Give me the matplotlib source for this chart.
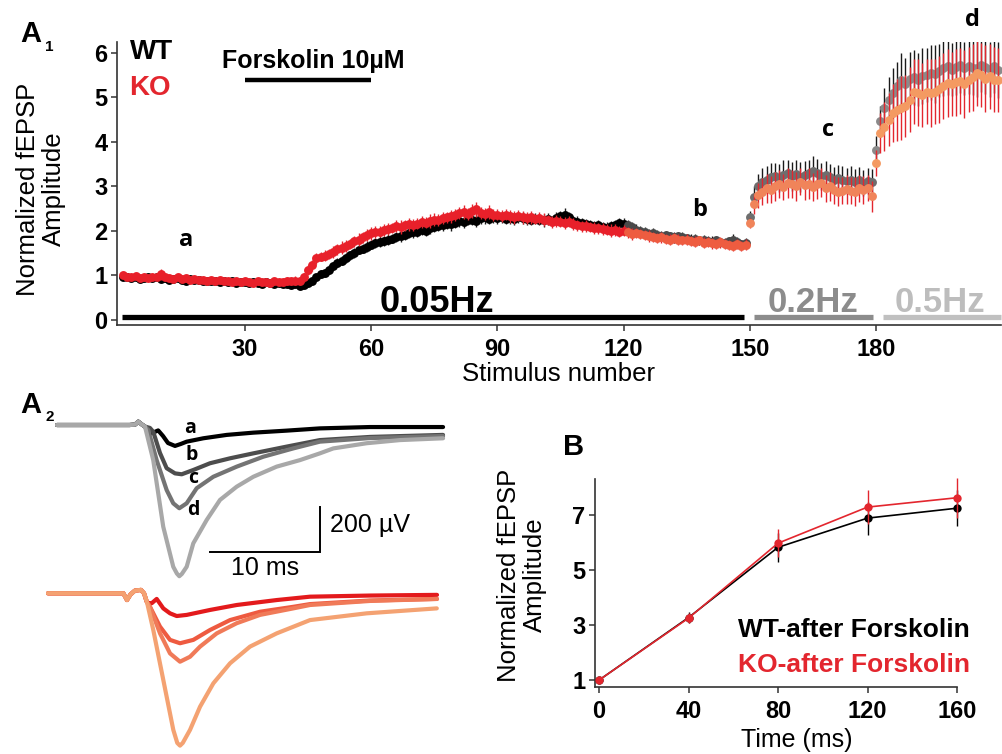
import numpy as np
import matplotlib
matplotlib.use('Agg')
import matplotlib.pyplot as plt

plt.rcParams['font.family'] = ['Liberation Sans', 'DejaVu Sans']

# ---------------- Panel A1 data (normalized fEPSP per stimulus) ----------------
wt_005 = [0.97, 0.95, 0.93, 0.96, 0.92, 0.94, 0.97, 0.93, 0.95, 0.91,
          0.94, 0.90, 0.92, 0.93, 0.90, 0.88, 0.91, 0.89, 0.90, 0.87,
          0.88, 0.86, 0.87, 0.85, 0.88, 0.84, 0.86, 0.83, 0.85, 0.84,
          0.82, 0.84, 0.83, 0.81, 0.84, 0.82, 0.80, 0.83, 0.81, 0.80,
          0.78, 0.80, 0.76, 0.79, 0.82, 0.88, 0.95, 1.02, 1.05, 1.12,
          1.20, 1.28, 1.33, 1.38, 1.45, 1.50, 1.57, 1.60, 1.64, 1.68,
          1.72, 1.75, 1.76, 1.80, 1.82, 1.86, 1.88, 1.90, 1.94, 1.96,
          1.98, 2.02, 2.00, 2.05, 2.08, 2.10, 2.12, 2.15, 2.14, 2.18,
          2.21, 2.20, 2.24, 2.25, 2.22, 2.28, 2.30, 2.27, 2.30, 2.28,
          2.30, 2.27, 2.29, 2.26, 2.30, 2.29, 2.26, 2.24, 2.27, 2.25,
          2.23, 2.26, 2.22, 2.28, 2.32, 2.36, 2.30, 2.22, 2.20, 2.18,
          2.15, 2.12, 2.10, 2.13, 2.08, 2.06, 2.10, 2.12, 2.17, 2.15,
          2.13, 2.08, 2.02, 2.00, 1.96, 1.93, 1.95, 1.90, 1.88, 1.90,
          1.87, 1.85, 1.88, 1.86, 1.83, 1.80, 1.82, 1.78, 1.80, 1.77,
          1.75, 1.78, 1.74, 1.72, 1.76, 1.80, 1.74, 1.70, 1.72]
wt_02 = [2.30, 2.75, 3.00, 3.10, 3.15, 3.20, 3.22, 3.18, 3.25, 3.30,
         3.22, 3.28, 3.20, 3.25, 3.30, 3.35, 3.30, 3.22, 3.25, 3.20,
         3.15, 3.18, 3.15, 3.12, 3.15, 3.10, 3.14, 3.08, 3.12, 3.10]
wt_05 = [3.82, 4.46, 4.76, 4.95, 5.10, 5.25, 5.39, 5.30, 5.42, 5.45,
         5.40, 5.47, 5.50, 5.55, 5.52, 5.60, 5.65, 5.70, 5.62, 5.68,
         5.72, 5.65, 5.70, 5.66, 5.65, 5.72, 5.68, 5.63, 5.70, 5.62]

ko_005 = [1.00, 0.97, 0.95, 0.98, 0.94, 0.96, 0.93, 0.95, 0.97, 1.02,
          0.96, 0.93, 0.92, 0.95, 0.91, 0.93, 0.90, 0.92, 0.89, 0.90,
          0.88, 0.90, 0.87, 0.89, 0.86, 0.88, 0.85, 0.87, 0.84, 0.86,
          0.85, 0.83, 0.86, 0.84, 0.85, 0.83, 0.86, 0.84, 0.85, 0.87,
          0.86, 0.88, 0.86, 0.95, 1.12, 1.22, 1.38, 1.42, 1.44, 1.48,
          1.52, 1.58, 1.62, 1.66, 1.70, 1.76, 1.80, 1.85, 1.90, 1.94,
          1.97, 1.98, 2.02, 2.04, 2.06, 2.10, 2.08, 2.12, 2.14, 2.13,
          2.16, 2.20, 2.18, 2.22, 2.25, 2.24, 2.28, 2.30, 2.32, 2.35,
          2.40, 2.42, 2.38, 2.44, 2.48, 2.40, 2.38, 2.42, 2.35, 2.36,
          2.33, 2.36, 2.32, 2.30, 2.34, 2.30, 2.28, 2.30, 2.26, 2.28,
          2.25, 2.24, 2.20, 2.22, 2.20, 2.17, 2.20, 2.15, 2.12, 2.10,
          2.10, 2.08, 2.06, 2.05, 2.04, 2.02, 2.00, 2.02, 1.98, 2.00,
          1.96, 1.92, 1.95, 1.93, 1.90, 1.88, 1.86, 1.84, 1.85, 1.82,
          1.80, 1.84, 1.80, 1.78, 1.80, 1.76, 1.75, 1.78, 1.73, 1.74,
          1.72, 1.70, 1.74, 1.70, 1.68, 1.66, 1.70, 1.65, 1.69]
ko_02 = [2.17, 2.60, 2.80, 2.88, 2.95, 2.92, 3.00, 3.05, 2.98, 3.08,
         3.05, 3.00, 3.10, 3.02, 3.06, 2.98, 3.04, 3.08, 2.95, 3.00,
         2.92, 2.88, 2.90, 2.93, 2.90, 2.88, 2.95, 2.92, 2.96, 2.77]
ko_05 = [3.52, 4.20, 4.34, 4.50, 4.64, 4.72, 4.76, 4.80, 4.95, 5.13,
         5.10, 5.05, 5.13, 5.10, 5.12, 5.18, 5.25, 5.32, 5.30, 5.34,
         5.36, 5.30, 5.40, 5.45, 5.54, 5.50, 5.42, 5.47, 5.40, 5.39]

wt_err_005 = [0.05, 0.04, 0.06, 0.05, 0.04, 0.05, 0.06, 0.05, 0.04, 0.05,
              0.06, 0.05, 0.04, 0.05, 0.05, 0.04, 0.06, 0.05, 0.05, 0.04,
              0.05, 0.06, 0.05, 0.04, 0.05, 0.05, 0.06, 0.04, 0.05, 0.05,
              0.04, 0.06, 0.05, 0.05, 0.04, 0.05, 0.06, 0.05, 0.04, 0.05,
              0.06, 0.05, 0.05, 0.06, 0.07, 0.08, 0.08, 0.09, 0.08, 0.10,
              0.09, 0.10, 0.10, 0.11, 0.10, 0.12, 0.10, 0.11, 0.12, 0.10,
              0.11, 0.12, 0.11, 0.12, 0.10, 0.11, 0.13, 0.12, 0.11, 0.12,
              0.13, 0.11, 0.12, 0.13, 0.12, 0.11, 0.13, 0.12, 0.14, 0.12,
              0.13, 0.15, 0.12, 0.13, 0.14, 0.12, 0.15, 0.13, 0.12, 0.14,
              0.13, 0.12, 0.14, 0.13, 0.12, 0.13, 0.14, 0.12, 0.13, 0.12,
              0.14, 0.13, 0.12, 0.13, 0.12, 0.14, 0.13, 0.12, 0.13, 0.11,
              0.12, 0.13, 0.12, 0.11, 0.12, 0.13, 0.11, 0.12, 0.12, 0.13,
              0.12, 0.11, 0.12, 0.11, 0.12, 0.11, 0.10, 0.12, 0.11, 0.10,
              0.11, 0.12, 0.10, 0.11, 0.10, 0.12, 0.11, 0.10, 0.11, 0.10,
              0.12, 0.11, 0.10, 0.11, 0.10, 0.12, 0.11, 0.10, 0.11]
wt_err_02 = [0.15, 0.25, 0.28, 0.30, 0.30, 0.32, 0.30, 0.31, 0.33, 0.30,
             0.32, 0.30, 0.34, 0.31, 0.30, 0.33, 0.32, 0.30, 0.31, 0.30,
             0.29, 0.30, 0.31, 0.29, 0.30, 0.28, 0.30, 0.29, 0.30, 0.28]
wt_err_05 = [0.30, 0.35, 0.45, 0.50, 0.55, 0.55, 0.60, 0.58, 0.60, 0.62,
             0.60, 0.63, 0.60, 0.62, 0.65, 0.60, 0.62, 0.64, 0.60, 0.62,
             0.63, 0.60, 0.62, 0.60, 0.64, 0.61, 0.60, 0.62, 0.60, 0.63]

ko_err_005 = [0.06, 0.05, 0.07, 0.06, 0.05, 0.06, 0.07, 0.06, 0.08, 0.12,
              0.07, 0.06, 0.05, 0.07, 0.06, 0.05, 0.06, 0.07, 0.05, 0.06,
              0.06, 0.05, 0.07, 0.06, 0.05, 0.06, 0.07, 0.06, 0.08, 0.06,
              0.05, 0.06, 0.07, 0.06, 0.05, 0.06, 0.06, 0.07, 0.06, 0.08,
              0.07, 0.10, 0.09, 0.10, 0.11, 0.12, 0.12, 0.11, 0.12, 0.12,
              0.13, 0.12, 0.14, 0.13, 0.12, 0.13, 0.14, 0.12, 0.13, 0.14,
              0.13, 0.12, 0.14, 0.13, 0.12, 0.14, 0.15, 0.13, 0.14, 0.13,
              0.12, 0.14, 0.13, 0.15, 0.14, 0.13, 0.14, 0.13, 0.15, 0.14,
              0.13, 0.16, 0.14, 0.15, 0.17, 0.14, 0.13, 0.15, 0.14, 0.13,
              0.14, 0.13, 0.15, 0.14, 0.13, 0.14, 0.13, 0.14, 0.12, 0.13,
              0.14, 0.12, 0.13, 0.14, 0.12, 0.13, 0.12, 0.14, 0.13, 0.12,
              0.13, 0.12, 0.13, 0.12, 0.13, 0.12, 0.14, 0.13, 0.12, 0.13,
              0.12, 0.13, 0.12, 0.11, 0.12, 0.13, 0.12, 0.11, 0.12, 0.11,
              0.12, 0.11, 0.12, 0.11, 0.12, 0.11, 0.12, 0.11, 0.12, 0.11,
              0.12, 0.11, 0.12, 0.11, 0.12, 0.11, 0.12, 0.11, 0.13]
ko_err_02 = [0.12, 0.22, 0.28, 0.30, 0.32, 0.30, 0.33, 0.32, 0.30, 0.34,
             0.32, 0.33, 0.30, 0.32, 0.34, 0.31, 0.33, 0.32, 0.30, 0.33,
             0.31, 0.32, 0.30, 0.33, 0.31, 0.32, 0.30, 0.31, 0.30, 0.35]
ko_err_05 = [0.30, 0.45, 0.55, 0.60, 0.65, 0.70, 0.72, 0.70, 0.74, 0.72,
             0.75, 0.72, 0.74, 0.76, 0.73, 0.75, 0.74, 0.76, 0.72, 0.75,
             0.74, 0.76, 0.73, 0.75, 0.74, 0.72, 0.75, 0.73, 0.74, 0.72]

a1_xticks = [30, 60, 90, 120, 150, 180]
a1_yticks = [0, 1, 2, 3, 4, 5, 6]
freq_labels = ['0.05Hz', '0.2Hz', '0.5Hz']

# ---------------- Panel A2 traces (time in ms, amplitude in µV) ----------------
wt_pre_t = [0.0, 6.6, 7.1, 7.39, 7.7, 8.0]
wt_pre_v = [0, 0, 2, 15, 3, -7]
wt_a_t = [8.18, 8.64, 9.2, 9.64, 10.09, 10.73, 11.27, 11.79, 13.3, 15.43, 17.85, 20.88, 23.9, 28.45, 35.1]
wt_a_v = [-22, -36, -24, -49, -80, -93, -84, -74, -59, -44, -34, -25, -15, -9, -9]
wt_b_t = [8.45, 8.75, 9.36, 9.97, 10.73, 11.34, 12.39, 13.91, 15.73, 17.85, 20.88, 23.9, 28.45, 35.1]
wt_b_v = [-13, -30, -124, -192, -215, -219, -200, -170, -148, -126, -96, -67, -53, -44]
wt_c_t = [8.3, 9.06, 9.97, 10.57, 11.12, 11.79, 12.7, 14.21, 16.34, 18.75, 21.48, 23.9, 28.45, 35.1]
wt_c_v = [-22, -156, -289, -348, -370, -348, -281, -230, -185, -141, -104, -74, -58, -49]
wt_d_t = [8.75, 9.66, 10.57, 10.9, 11.12, 11.35, 11.79, 12.39, 13.61, 14.82, 16.34, 17.85, 19.97, 22.09, 23.9, 25.12, 28.15, 31.18, 35.1]
wt_d_v = [-156, -452, -630, -660, -672, -662, -630, -526, -422, -333, -274, -230, -185, -156, -126, -104, -81, -67, -59]

ko_pre_t = [0.0, 6.85, 7.18, 7.5, 7.9, 8.45, 8.73]
ko_pre_v = [0, 0, -30, -5, 12, 15, 0]
ko_a_t = [8.95, 9.09, 9.43, 9.88, 10.48, 11.09, 11.7, 12.61, 14.73, 17.15, 20.79, 23.82, 29.27, 35.36]
ko_a_v = [-35, -43, -44, -25, -67, -89, -101, -96, -74, -52, -30, -15, -10, -7]
ko_b_t = [9.0, 9.27, 10.18, 11.09, 12.0, 13.21, 14.73, 16.55, 19.27, 22.3, 23.82, 29.27, 35.36]
ko_b_v = [-40, -60, -148, -207, -222, -207, -163, -119, -82, -60, -48, -32, -25]
ko_c_t = [9.0, 9.27, 10.18, 11.09, 12.0, 12.91, 13.82, 15.34, 17.15, 19.27, 22.3, 23.82, 29.27, 35.36]
ko_c_v = [-40, -60, -178, -267, -304, -282, -237, -178, -133, -96, -67, -52, -34, -25]
ko_d_t = [9.0, 9.57, 10.48, 11.39, 11.75, 12.0, 12.25, 12.91, 13.82, 15.03, 16.55, 18.36, 20.79, 23.82, 28.97, 35.34]
ko_d_v = [-40, -163, -385, -607, -665, -677, -665, -607, -504, -400, -311, -237, -178, -119, -89, -67]

trace_labels = ['a', 'b', 'c', 'd']

# ---------------- Panel B data ----------------
b_time = [0, 40, 80, 120, 160]
b_wt = [1.0, 3.27, 5.82, 6.88, 7.24]
b_wt_err = [0.0, 0.2, 0.52, 0.6, 0.66]
b_ko = [1.0, 3.25, 5.97, 7.28, 7.62]
b_ko_err = [0.0, 0.18, 0.5, 0.62, 0.72]
b_xticks = [0, 40, 80, 120, 160]
b_yticks = [1, 3, 5, 7]

# ---------------- styling ----------------
RED = '#e3262e'
wt_seg_colors = ['#000000', '#4a4a4a', '#6e6e6e', '#8a8a8a']
ko_seg_colors = ['#e8202a', '#ee5c40', '#f0845a', '#f49a62']
wt_trace_colors = ['#000000', '#4d4d4d', '#747474', '#a8a8a8']
ko_trace_colors = ['#e31a1c', '#ee5a40', '#f07a58', '#f4a272']
SPINE = '#333333'

fig = plt.figure(figsize=(10.02, 7.54), dpi=100)
W, H = 1002.0, 754.0

def px_axes(x0, y0, x1, y1):
    return fig.add_axes([x0 / W, 1 - y1 / H, (x1 - x0) / W, (y1 - y0) / H])

# ======== A1 ========
ax1 = px_axes(117, 41.7, 1001, 325)
wt = np.array(wt_005 + wt_02 + wt_05)
ko = np.array(ko_005 + ko_02 + ko_05)
wt_err = np.array(wt_err_005 + wt_err_02 + wt_err_05)
ko_err = np.array(ko_err_005 + ko_err_02 + ko_err_05)
stim = np.arange(1, len(wt) + 1)
n1 = len(wt_005)
n2 = len(wt_02)
groups = [stim <= 120, (stim > 120) & (stim <= n1),
          (stim > n1) & (stim <= n1 + n2), stim > n1 + n2]

ekw = dict(fmt='o', ms=6.4, mew=0, elinewidth=1.0, capsize=3.0, capthick=1.1)
for g, c in zip(groups, wt_seg_colors):
    ax1.errorbar(stim[g], wt[g], yerr=wt_err[g], mfc=c, mec=c, ecolor='#1a1a1a', zorder=3, **ekw)
for g, c in zip(groups, ko_seg_colors):
    ax1.errorbar(stim[g], ko[g], yerr=ko_err[g], mfc=c, mec=c, ecolor=RED, zorder=4, **ekw)

ax1.set_xlim(-0.4, 209.7)
ax1.set_ylim(-0.12, 6.25)
ax1.set_xticks(a1_xticks)
ax1.set_yticks(a1_yticks)
for s in ['top', 'right']:
    ax1.spines[s].set_visible(False)
for s in ['left', 'bottom']:
    ax1.spines[s].set_color(SPINE)
    ax1.spines[s].set_linewidth(1.2)
ax1.tick_params(axis='both', direction='out', length=4, width=1.1, color=SPINE, labelsize=17)
ax1.tick_params(axis='x', pad=5)
ax1.tick_params(axis='y', pad=3)
for lab in ax1.get_xticklabels() + ax1.get_yticklabels():
    lab.set_fontweight('bold')

# stimulation protocol bars
bar_y = 0.06
ax1.plot([0.7, 148.6], [bar_y, bar_y], color='black', lw=3.8, solid_capstyle='butt', zorder=5)
ax1.plot([150.9, 179.3], [bar_y, bar_y], color='#8c8c8c', lw=3.8, solid_capstyle='butt', zorder=5)
ax1.plot([181.7, 209.7], [bar_y, bar_y], color='#c0c0c0', lw=3.8, solid_capstyle='butt', zorder=5, clip_on=False)
ax1.text(75.6, 0.17, freq_labels[0], fontsize=26, fontweight='bold', ha='center', va='baseline', color='black')
ax1.text(165.0, 0.17, freq_labels[1], fontsize=25, fontweight='bold', ha='center', va='baseline', color='#8c8c8c')
ax1.text(195.3, 0.17, freq_labels[2], fontsize=25, fontweight='bold', ha='center', va='baseline', color='#bdbdbd')

# forskolin bar
ax1.plot([30, 60], [5.39, 5.39], color='black', lw=3.2, solid_capstyle='butt')
ax1.text(46.2, 5.82, 'Forskolin 10µM', fontsize=18, fontweight='bold', ha='center', va='center')
ax1.text(2.6, 6.02, 'WT', fontsize=20, fontweight='bold', ha='left', va='center', color='black')
ax1.text(2.6, 5.22, 'KO', fontsize=20, fontweight='bold', ha='left', va='center', color=RED)

lab_font = ['Open Sans', 'DejaVu Sans']
ax1.text(16.0, 1.8, 'a', fontsize=17, fontweight='bold', ha='center', va='center', family=lab_font)
ax1.text(138.0, 2.47, 'b', fontsize=17, fontweight='bold', ha='center', va='center', family=lab_font)
ax1.text(168.6, 4.27, 'c', fontsize=17, fontweight='bold', ha='center', va='center', family=lab_font)
ax1.text(203.0, 6.74, 'd', fontsize=17, fontweight='bold', ha='center', va='center', family=lab_font, clip_on=False)

fig.text(558 / W, 1 - 374 / H, 'Stimulus number', fontsize=18.5, ha='center', va='center')
fig.text(41 / W, 1 - 189 / H, 'Normalized fEPSP\nAmplitude', fontsize=18.5, rotation=90,
         ha='center', va='center', multialignment='center', linespacing=1.15)

# panel labels
fig.text(20 / W, 1 - 42 / H, 'A', fontsize=21, fontweight='bold', ha='left', va='baseline')
fig.text(45 / W, 1 - 51 / H, '1', fontsize=11, fontweight='bold', ha='left', va='baseline')
fig.text(20 / W, 1 - 413 / H, 'A', fontsize=21, fontweight='bold', ha='left', va='baseline')
fig.text(45 / W, 1 - 421 / H, '2', fontsize=11, fontweight='bold', ha='left', va='baseline')
fig.text(563 / W, 1 - 455 / H, 'B', fontsize=21, fontweight='bold', ha='left', va='baseline')

# ======== A2 ========
axw = px_axes(40, 410, 460, 590)
axw.set_xlim(-1.545, 36.64)
axw.set_ylim(-733.3, 66.7)
axw.axis('off')
wt_traces = [(wt_a_t, wt_a_v), (wt_b_t, wt_b_v), (wt_c_t, wt_c_v), (wt_d_t, wt_d_v)]
for (tt, vv), c in zip(wt_traces, wt_trace_colors):
    axw.plot(wt_pre_t + tt, wt_pre_v + vv, color=c, lw=3.0, solid_joinstyle='round', solid_capstyle='round')
wt_lab_pos = [(12.09, -14.7), (12.24, -133), (12.39, -237), (12.39, -378)]
for lab, (tx, vy) in zip(trace_labels, wt_lab_pos):
    axw.text(tx, vy, lab, fontsize=14, fontweight='bold', ha='center', va='center', family=lab_font)
# scale bar
axw.plot([13.91, 23.91, 23.91], [-564, -564, -364], color='black', lw=1.4, solid_joinstyle='miter')
axw.text(24.8, -444, '200 µV', fontsize=18, ha='left', va='center')
axw.text(18.9, -636, '10 ms', fontsize=18, ha='center', va='center')

axk = px_axes(30, 580, 460, 754)
axk.set_xlim(-1.636, 37.45)
axk.set_ylim(-714.2, 59.1)
axk.axis('off')
ko_traces = [(ko_a_t, ko_a_v), (ko_b_t, ko_b_v), (ko_c_t, ko_c_v), (ko_d_t, ko_d_v)]
for (tt, vv), c in zip(ko_traces, ko_trace_colors):
    axk.plot(ko_pre_t + tt, ko_pre_v + vv, color=c, lw=3.0, solid_joinstyle='round', solid_capstyle='round')

# ======== B ========
axb = px_axes(595, 479, 957, 687)
axb.errorbar(b_time, b_wt, yerr=b_wt_err, color='black', lw=1.2, marker='o', ms=6, mew=0,
             elinewidth=1.0, capsize=3, capthick=1.0, clip_on=False, zorder=3)
axb.errorbar(b_time, b_ko, yerr=b_ko_err, color=RED, lw=1.2, marker='o', ms=6, mew=0,
             elinewidth=1.0, capsize=3, capthick=1.0, clip_on=False, zorder=4)
axb.set_xlim(-1.8, 160)
axb.set_ylim(0.75, 8.3)
axb.set_xticks(b_xticks)
axb.set_yticks(b_yticks)
for s in ['top', 'right']:
    axb.spines[s].set_visible(False)
for s in ['left', 'bottom']:
    axb.spines[s].set_color(SPINE)
    axb.spines[s].set_linewidth(1.2)
axb.tick_params(axis='both', direction='out', length=4, width=1.1, color=SPINE, labelsize=17)
axb.tick_params(axis='x', pad=5)
axb.tick_params(axis='y', pad=3)
for lab in axb.get_xticklabels() + axb.get_yticklabels():
    lab.set_fontweight('bold')
axb.text(165.8, 2.82, 'WT-after Forskolin', fontsize=19, fontweight='bold', ha='right', va='center',
         color='black', clip_on=False)
axb.text(165.8, 1.55, 'KO-after Forskolin', fontsize=19, fontweight='bold', ha='right', va='center',
         color=RED, clip_on=False)
fig.text(797 / W, 1 - 740 / H, 'Time (ms)', fontsize=18, ha='center', va='center')
fig.text(522 / W, 1 - 575 / H, 'Normalized fEPSP\nAmplitude', fontsize=18.5, rotation=90,
         ha='center', va='center', multialignment='center', linespacing=1.15)

fig.savefig('out.png', dpi=100)
